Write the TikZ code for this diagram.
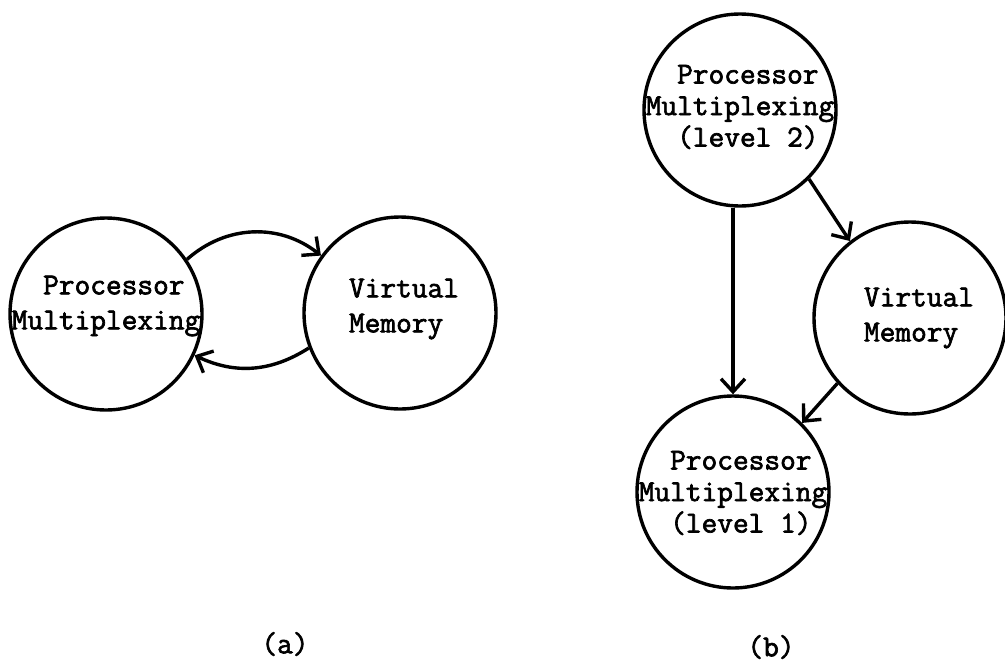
\documentclass[tikz,border=0pt]{standalone}
\usepackage{fontspec}
\setmonofont{Latin Modern Mono}[AutoFakeBold=2.2]
\usetikzlibrary{arrows.meta,calc}
\begin{document}
\begin{tikzpicture}[x=1pt,y=-1pt,
  circ/.style={draw, circle, line width=3.4pt, minimum size=192pt, inner sep=0pt},
  txt/.style={font=\ttfamily\bfseries\fontsize{30.5}{35}\selectfont, align=left, inner sep=0pt},
  txtb/.style={font=\ttfamily\bfseries\fontsize{30.5}{31.5}\selectfont, align=left, inner sep=0pt},
  arr/.style={line width=3.4pt, -{Straight Barb[length=13pt,width=24pt]}}]
\useasboundingbox (0,0) rectangle (1005,665);
% (a)
\node[circ] (A1) at (106,314) {};
\node[txt] (A1t) at (106,306) {\hphantom{Mu}Processor\\Multiplexing};
\node[circ] (A2) at (400,313) {};
\node[txt] (A2t) at (404,309) {Virtual\\Memory};
\draw[arr] (A1.34) to[bend left=40] (A2.144);
\draw[arr] (A2.-159) to[bend left=29] (A1.-25);
\node[txt] (la) at (285,644) {(a)};
% (b)
\node[circ] (B1) at (740,110) {};
\node[txtb] (B1t) at (740,107) {\hphantom{Mu}Processor\\Multiplexing\\\hphantom{Mu}(level 2)};
\node[circ] (B2) at (910,318) {};
\node[txt] (B2t) at (919,318) {Virtual\\Memory};
\node[circ] (B3) at (733,492) {};
\node[txtb] (B3t) at (733,493) {\hphantom{Mu}Processor\\Multiplexing\\\hphantom{Mu}(level 1)};
\draw[arr] (B1.south -| B3.north) -- (B3.north);
\draw[arr] (B1.-45) -- (B2.128);
\draw[arr] (B2.-138) -- (B3.45);
\node[txt] (lb) at (771,647) {(b)};
\end{tikzpicture}
\end{document}
